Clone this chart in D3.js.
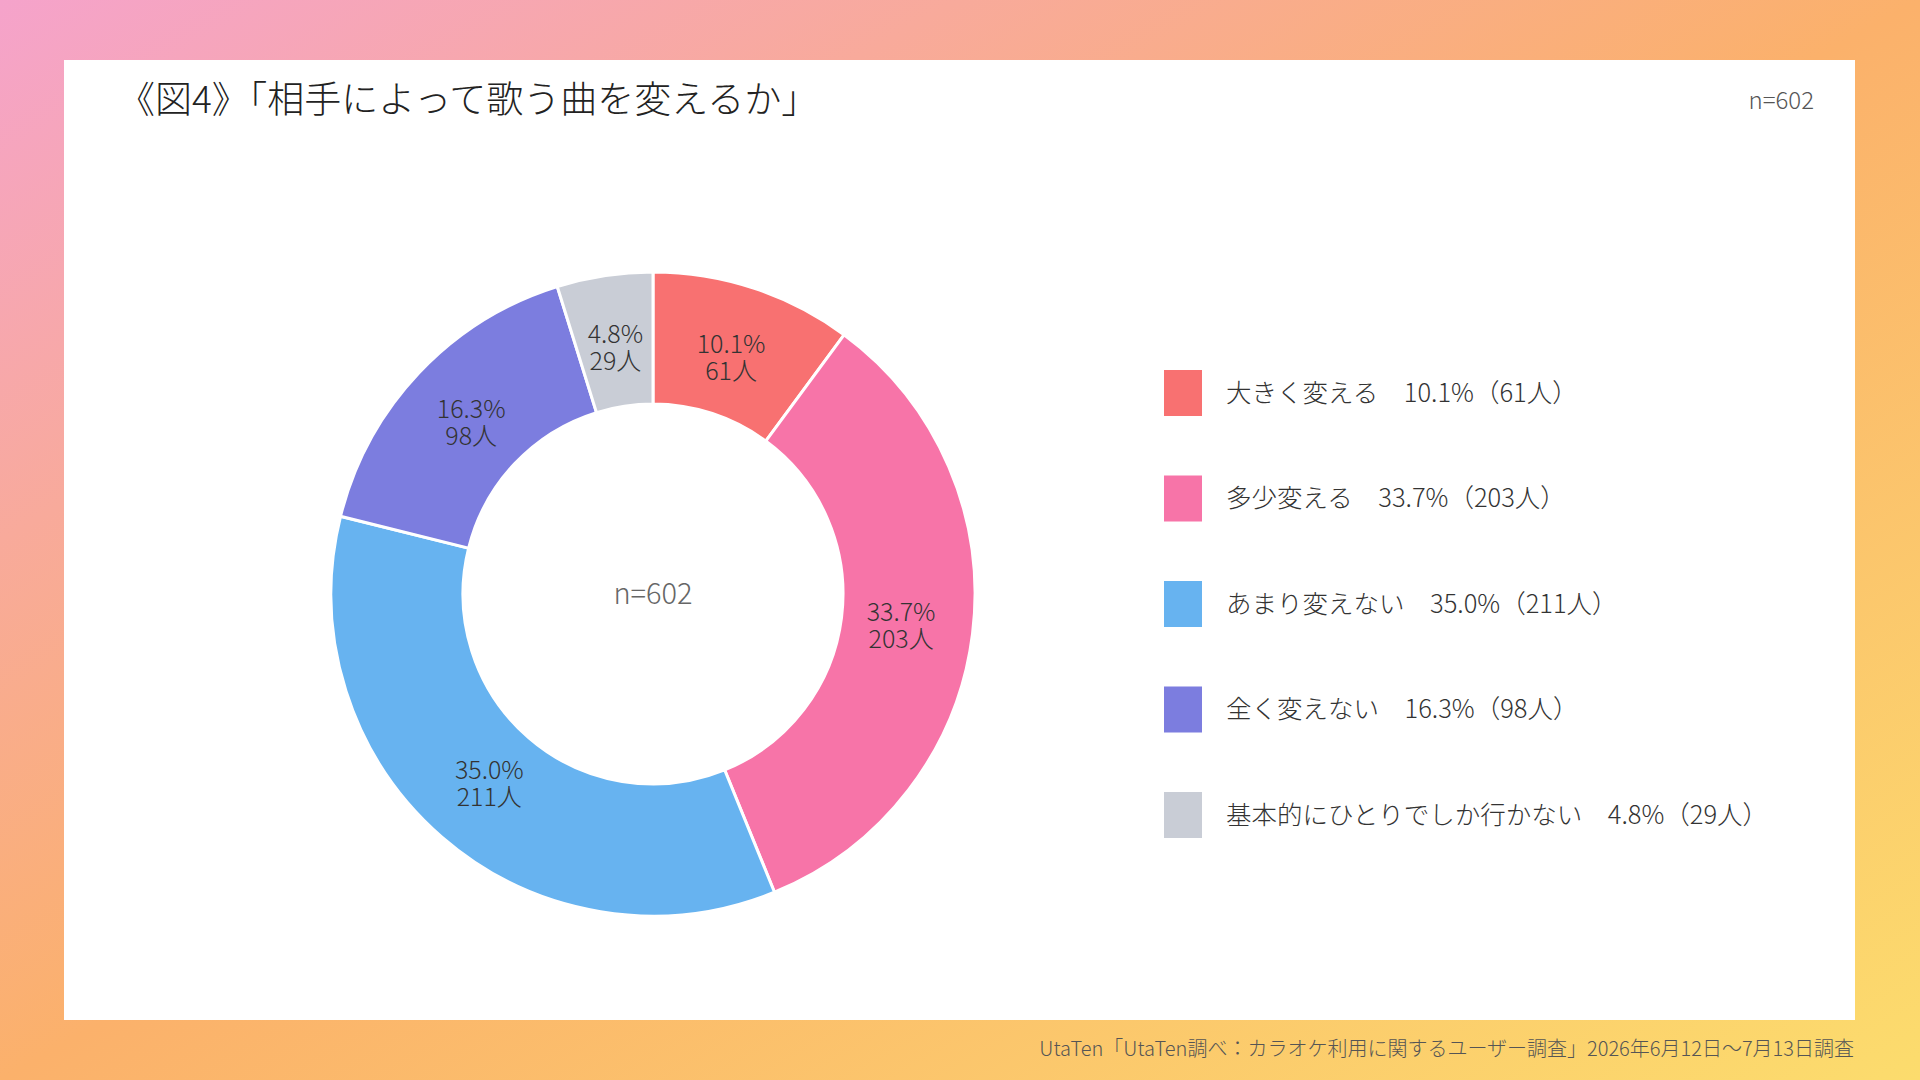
<!DOCTYPE html>
<html>
<head>
<meta charset="utf-8">
<script src="https://cdn.jsdelivr.net/npm/d3@7"></script>
<style>
  html, body { margin:0; padding:0; }
  body { width:1920px; height:1080px; overflow:hidden; }
  svg text { font-family: "Noto Sans CJK JP", "Noto Sans", sans-serif; font-weight: 300; }
</style>
</head>
<body>
<div id="chart"></div>
<script>
// data
var categories = ["大きく変える", "多少変える", "あまり変えない", "全く変えない", "基本的にひとりでしか行かない"];
var percents = [10.1, 33.7, 35.0, 16.3, 4.8];
var counts = [61, 203, 211, 98, 29];
var colors = ["#f87171", "#f774a8", "#67b3f0", "#7c7ddf", "#c9cdd6"];
var total = 602;
var titleText = "《図4》「相手によって歌う曲を変えるか」";
var sourceText = "UtaTen「UtaTen調べ：カラオケ利用に関するユーザー調査」2026年6月12日～7月13日調査";

var width = 1920,
    height = 1080,
    cx = 653, cy = 594, // donut centre
    outerR = 322,
    innerR = 190,
    labelR = 250;

var svg = d3.select("#chart").append("svg")
    .attr("width", width)
    .attr("height", height);

// background gradient
var grad = svg.append("defs").append("linearGradient")
    .attr("id", "bg")
    .attr("x1", 0).attr("y1", 0)
    .attr("x2", 1).attr("y2", 1);
grad.append("stop").attr("offset", "0%").attr("stop-color", "#f5a3cb");
grad.append("stop").attr("offset", "50%").attr("stop-color", "#fbb16b");
grad.append("stop").attr("offset", "100%").attr("stop-color", "#fcdc6d");

svg.append("rect")
    .attr("width", width)
    .attr("height", height)
    .attr("fill", "url(#bg)");

// white card
svg.append("rect")
    .attr("x", 64)
    .attr("y", 60)
    .attr("width", 1791)
    .attr("height", 960)
    .attr("fill", "#fff");

// title
svg.append("text")
    .attr("x", 118)
    .attr("y", 113)
    .attr("fill", "#222")
    .style("font-size", "37px")
    .text(titleText);

svg.append("text")
    .attr("x", 1814)
    .attr("y", 109)
    .attr("text-anchor", "end")
    .attr("fill", "#555")
    .style("font-size", "24px")
    .text("n=" + total);

// donut
var pie = d3.pie().sort(null).value(function(d){ return d; });
var arcs = pie(percents);
var arc = d3.arc().innerRadius(innerR).outerRadius(outerR);
var labelArc = d3.arc().innerRadius(labelR).outerRadius(labelR);

var g = svg.append("g").attr("transform", "translate(" + cx + "," + cy + ")");

g.selectAll("path.slice")
    .data(arcs)
  .enter().append("path")
    .attr("class", "slice")
    .attr("d", arc)
    .attr("fill", function(d,i){ return colors[i]; })
    .attr("stroke", "#fff")
    .attr("stroke-width", 3);

// two lines per slice: percent above, count below
var lbl = g.selectAll("g.lbl")
    .data(arcs)
  .enter().append("g")
    .attr("class", "lbl")
    .attr("transform", function(d){ return "translate(" + labelArc.centroid(d) + ")"; });
lbl.append("text")
    .attr("text-anchor", "middle")
    .attr("y", -4)
    .attr("fill", "#333")
    .style("font-size", "25px")
    .text(function(d,i){ return percents[i].toFixed(1) + "%"; });
lbl.append("text")
    .attr("text-anchor", "middle")
    .attr("y", 23)
    .attr("fill", "#333")
    .style("font-size", "25px")
    .text(function(d,i){ return counts[i] + "人"; });

g.append("text")
    .attr("text-anchor", "middle")
    .attr("dy", "0.35em")
    .attr("fill", "#666")
    .style("font-size", "29px")
    .text("n=" + total);

// legend
var legendY = d3.scalePoint()
    .domain(categories)
    .range([393, 815]);

var items = svg.selectAll(".legend")
    .data(categories)
  .enter().append("g")
    .attr("class", "legend")
    .attr("transform", function(d){ return "translate(1164," + legendY(d) + ")"; });

items.append("rect")
    .attr("x", 0)
    .attr("y", -23)
    .attr("width", 38)
    .attr("height", 46)
    .attr("fill", function(d,i){ return colors[i]; });

items.append("text")
    .attr("x", 62)
    .attr("dy", "0.35em")
    .attr("fill", "#333")
    .style("font-size", "25.5px")
    .text(function(d,i){ return d + "　" + percents[i].toFixed(1) + "%（" + counts[i] + "人）"; });

// source
svg.append("text")
    .attr("x", 1854)
    .attr("y", 1056)
    .attr("text-anchor", "end")
    .attr("fill", "#555")
    .style("font-size", "20px")
    .text(sourceText);
</script>
</body>
</html>
